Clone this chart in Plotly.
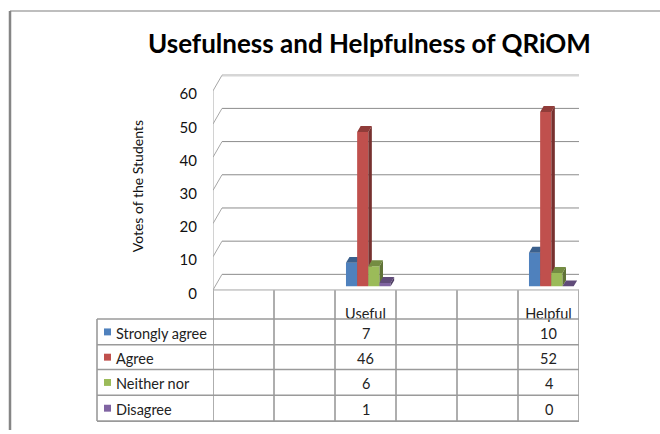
import plotly.graph_objects as go

# ---------------- data ----------------
categories = ["", "", "Useful", "", "", "Helpful"]
series_names = ["Strongly agree", "Agree", "Neither nor", "Disagree"]
strongly_agree = [None, None, 7, None, None, 10]
agree = [None, None, 46, None, None, 52]
neither_nor = [None, None, 6, None, None, 4]
disagree = [None, None, 1, None, None, 0]
y_ticks = [0, 10, 20, 30, 40, 50, 60]

series_values = [strongly_agree, agree, neither_nor, disagree]
colors = ["#4F81BD", "#C0504D", "#9BBB59", "#8064A2"]

# ---------------- helpers / styling ----------------
W, H = 660, 434
FONT = "Lato"


def fx(p):
    return p / W


def fy(p):
    return 1 - p / H


def shade(hexcol, f):
    h = hexcol.lstrip("#")
    r, g, b = (int(h[i:i + 2], 16) for i in (0, 2, 4))
    return "rgb(%d,%d,%d)" % (r * f, g * f, b * f)


X_LEFT, X_RIGHT = 213, 579
UNIT = (X_RIGHT - X_LEFT) / len(categories)
DOM_TOP, DOM_BOT = 70, 300
# tick-label axis mapping
P0_T, S_T = 296, 3.35
# bar axis mapping
P0_B, S_B = 289, 3.385

BW = 11.2 / UNIT
OFFSETS = [-0.32, -0.137, 0.046, 0.229]
DX = 3.5 / UNIT
DY = 6 / S_B

fig = go.Figure()
xs = list(range(len(categories)))

for k, (name, vals, col) in enumerate(zip(series_names, series_values, colors)):
    ya = "y%d" % (k + 2)
    fig.add_trace(go.Bar(
        x=xs, y=vals, name=name, xaxis="x", yaxis=ya,
        width=BW, offset=OFFSETS[k], marker=dict(color=col, line=dict(width=0)),
        showlegend=False, hoverinfo="skip"))
    sx, sy, tx, ty = [], [], [], []
    for i, v in enumerate(vals):
        if v is None:
            continue
        xl = i + OFFSETS[k]
        xr = xl + BW
        sx += [xr, xr + DX, xr + DX, xr, xr, None]
        sy += [0, DY, v + DY, v, 0, None]
        tx += [xl, xl + DX, xr + DX, xr, xl, None]
        ty += [v, v + DY, v + DY, v, v, None]
    fig.add_trace(go.Scatter(x=sx, y=sy, xaxis="x", yaxis=ya, mode="lines",
                             fill="toself", fillcolor=shade(col, 0.62),
                             line=dict(width=0, color=shade(col, 0.62)),
                             showlegend=False, hoverinfo="skip"))
    fig.add_trace(go.Scatter(x=tx, y=ty, xaxis="x", yaxis=ya, mode="lines",
                             fill="toself", fillcolor=shade(col, 0.75),
                             line=dict(width=0, color=shade(col, 0.75)),
                             showlegend=False, hoverinfo="skip"))

shapes = []
GRID = "#8c8c8c"
BACK_DY, FRONT_DY = 5.7, 1.0
XB_L = -0.5 + 9 / UNIT
XB_R = -0.5 + 376 / UNIT
for v in y_ticks:
    top = v == y_ticks[-1]
    shapes.append(dict(type="line", xref="x", yref="y", x0=XB_L, x1=XB_R,
                       y0=v + BACK_DY, y1=v + BACK_DY, layer="below",
                       line=dict(color="#d6d6d6" if top else GRID, width=2.5 if top else 1)))
    shapes.append(dict(type="line", xref="x", yref="y", x0=-0.5, x1=XB_L,
                       y0=v + FRONT_DY, y1=v + BACK_DY, layer="below",
                       line=dict(color="#a6a6a6", width=1)))
# front left edge of the wall
shapes.append(dict(type="line", xref="x", yref="y", x0=-0.5, x1=-0.5,
                   y0=FRONT_DY, y1=y_ticks[-1] + FRONT_DY + 0.2, layer="below",
                   line=dict(color="#a6a6a6", width=1)))
# floor front edge & right edge
shapes.append(dict(type="line", xref="x", yref="y", x0=-0.5, x1=5.5,
                   y0=FRONT_DY, y1=FRONT_DY, layer="below",
                   line=dict(color="#a6a6a6", width=1)))
shapes.append(dict(type="line", xref="x", yref="y", x0=5.5, x1=XB_R,
                   y0=FRONT_DY, y1=BACK_DY, layer="below",
                   line=dict(color="#a6a6a6", width=1)))

# data table
TBL = "#9a9a9a"
ROW_Y = [322, 348, 373, 399, 425]
for b in range(len(categories) + 1):
    shapes.append(dict(type="line", xref="x", yref="paper", x0=b - 0.5, x1=b - 0.5,
                       y0=fy(293), y1=fy(425), line=dict(color=TBL, width=1.6)))
shapes.append(dict(type="line", xref="paper", yref="paper", x0=fx(97), x1=fx(97),
                   y0=fy(322), y1=fy(425), line=dict(color=TBL, width=1.6)))
for ry in ROW_Y:
    shapes.append(dict(type="line", xref="paper", yref="paper", x0=fx(97), x1=fx(579),
                       y0=fy(ry), y1=fy(ry), line=dict(color=TBL, width=1.6)))

# chart border
shapes.append(dict(type="line", xref="paper", yref="paper", x0=fx(10), x1=fx(660),
                   y0=fy(11), y1=fy(11), line=dict(color="#a8a8a8", width=1.5)))
shapes.append(dict(type="line", xref="paper", yref="paper", x0=fx(10), x1=fx(10),
                   y0=fy(11), y1=0, line=dict(color="#858585", width=2.5)))

annotations = []
annotations.append(dict(text="<b>Usefulness and Helpfulness of QRiOM</b>",
                        xref="paper", yref="paper", x=fx(370), y=fy(43),
                        showarrow=False, xanchor="center", yanchor="middle",
                        font=dict(family=FONT, size=26, color="#000000")))
annotations.append(dict(text="Votes of the Students", textangle=-90,
                        xref="paper", yref="paper", x=fx(137), y=fy(188),
                        showarrow=False, xanchor="center", yanchor="middle",
                        font=dict(family=FONT, size=14, color="#111111")))

for r, (name, vals, col) in enumerate(zip(series_names, series_values, colors)):
    cy = (ROW_Y[r] + ROW_Y[r + 1]) / 2
    shapes.append(dict(type="rect", xref="paper", yref="paper",
                       x0=fx(104), x1=fx(111), y0=fy(cy + 3.5), y1=fy(cy - 3.5),
                       fillcolor=col, line=dict(width=0)))
    annotations.append(dict(text=name, xref="paper", yref="paper", x=fx(114), y=fy(cy + 1.5),
                            showarrow=False, xanchor="left", yanchor="middle",
                            font=dict(family=FONT, size=14.5, color="#222222")))
    for i, v in enumerate(vals):
        if v is None:
            continue
        annotations.append(dict(text=str(v), xref="x", yref="paper", x=i, y=fy(cy + 1.5),
                                showarrow=False, xanchor="center", yanchor="middle",
                                font=dict(family=FONT, size=14.5, color="#222222")))

bar_range = [(P0_B - DOM_BOT) / S_B, (P0_B - DOM_TOP) / S_B]
layout = dict(
    width=W, height=H, margin=dict(l=0, r=0, t=0, b=0),
    paper_bgcolor="white", plot_bgcolor="rgba(0,0,0,0)",
    barmode="overlay", showlegend=False,
    xaxis=dict(domain=[fx(X_LEFT), fx(X_RIGHT)], range=[-0.5, 5.5],
               tickvals=xs, ticktext=categories, showgrid=False, zeroline=False,
               showline=False, ticks="outside", ticklen=3, tickcolor="rgba(0,0,0,0)",
               tickfont=dict(family=FONT, size=14.5, color="#222222"), fixedrange=True),
    yaxis=dict(domain=[fy(DOM_BOT), fy(DOM_TOP)],
               range=[(P0_T - DOM_BOT) / S_T, (P0_T - DOM_TOP) / S_T],
               tickvals=y_ticks, showgrid=False, zeroline=False, showline=False,
               ticks="outside", ticklen=12, tickcolor="rgba(0,0,0,0)",
               tickfont=dict(family=FONT, size=15, color="#111111"), fixedrange=True),
    shapes=shapes, annotations=annotations,
)
for k in range(len(series_names)):
    layout["yaxis%d" % (k + 2)] = dict(overlaying="y", range=bar_range, visible=False,
                                       fixedrange=True)
fig.update_layout(**layout)
fig.write_html("out.html", config={"displayModeBar": False},
               post_script="document.body.style.margin='0px';")
